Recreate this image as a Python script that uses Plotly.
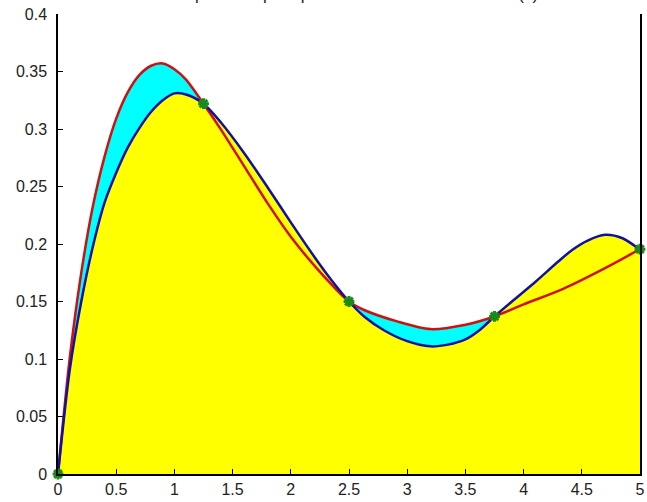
import plotly.graph_objects as go

# Original function f(x) (blue)
fx = [0, 0.1, 0.2, 0.3, 0.4, 0.5, 0.6, 0.7, 0.8, 0.9, 1.0, 1.1, 1.25,
      1.4, 1.6, 1.8, 2.0, 2.2, 2.35, 2.5, 2.63, 2.8, 3.0, 3.2, 3.35, 3.5, 3.62,
      3.75, 3.9, 4.1, 4.3, 4.42, 4.55, 4.7, 4.85, 5.0]
fy = [0, 0.090, 0.150, 0.198, 0.236, 0.262, 0.284, 0.301, 0.315, 0.325, 0.331,
      0.330, 0.322, 0.3057, 0.279, 0.2494, 0.2188, 0.1892, 0.1685, 0.150,
      0.137, 0.125, 0.1155, 0.111, 0.1125, 0.117, 0.125, 0.137, 0.150, 0.167,
      0.185, 0.195, 0.203, 0.208, 0.205, 0.195]

# Interpolant (red)
px = [0, 0.1, 0.2, 0.3, 0.4, 0.5, 0.6, 0.7, 0.8, 0.9, 1.0, 1.1, 1.25, 1.4,
      1.6, 1.8, 2.0, 2.25, 2.5, 2.63, 2.92, 3.2, 3.49, 3.75, 4.0, 4.34, 4.7, 5.0]
py = [0, 0.100, 0.175, 0.233, 0.276, 0.309, 0.332, 0.347, 0.355, 0.357, 0.352,
      0.343, 0.322, 0.2995, 0.2675, 0.2355, 0.2063, 0.1758, 0.150, 0.1426,
      0.1325, 0.126, 0.1296, 0.137, 0.1475, 0.161, 0.179, 0.1955]

# Interpolation nodes (green)
nx = [0, 1.25, 2.5, 3.75, 5]
ny = [0, 0.322, 0.150, 0.137, 0.1955]

xtickvals = [0, 0.5, 1, 1.5, 2, 2.5, 3, 3.5, 4, 4.5, 5]
xticktext = ["0", "0.5", "1", "1.5", "2", "2.5", "3", "3.5", "4", "4.5", "5"]
ytickvals = [0, 0.05, 0.1, 0.15, 0.2, 0.25, 0.3, 0.35, 0.4]
yticktext = ["0", "0.05", "0.1", "0.15", "0.2", "0.25", "0.3", "0.35", "0.4"]

title_text = "Interpolacion por splines cubicos de la funcion f(x)"

fig = go.Figure()
fig.add_trace(go.Scatter(x=px, y=py, mode="lines", fill="tozeroy",
                         fillcolor="#00ffff", line=dict(width=0, shape="spline", smoothing=0.8),
                         hoverinfo="skip", showlegend=False))
fig.add_trace(go.Scatter(x=fx, y=fy, mode="lines", fill="tozeroy",
                         fillcolor="#ffff00", line=dict(width=0, shape="spline", smoothing=0.8),
                         hoverinfo="skip", showlegend=False))
fig.add_trace(go.Scatter(x=px, y=py, mode="lines",
                         line=dict(color="#d01010", width=2.5, shape="spline", smoothing=0.8),
                         showlegend=False))
fig.add_trace(go.Scatter(x=fx, y=fy, mode="lines",
                         line=dict(color="#1010a8", width=2.5, shape="spline", smoothing=0.8),
                         showlegend=False))
fig.add_trace(go.Scatter(x=nx, y=ny, mode="markers", cliponaxis=False,
                         marker=dict(symbol="asterisk-open", size=9, color="#1a8a1a",
                                     line=dict(color="#1a8a1a", width=3)),
                         showlegend=False))

axis_font = dict(family="Liberation Sans, Arial, sans-serif", size=16, color="#222222")
fig.update_layout(
    width=647, height=502,
    margin=dict(l=58, r=2, t=14, b=28),
    paper_bgcolor="white", plot_bgcolor="white",
    xaxis=dict(range=[0, 5], tickvals=xtickvals, ticktext=xticktext,
               showgrid=False, zeroline=False, showline=True, linecolor="black",
               linewidth=1.5, ticks="inside", ticklen=5, tickcolor="black",
               tickfont=axis_font, ticklabelstandoff=0, ticklabeloverflow="allow",
               mirror=False),
    yaxis=dict(range=[0, 0.4], tickvals=ytickvals, ticktext=yticktext,
               showgrid=False, zeroline=False, showline=True, linecolor="black",
               linewidth=1.5, ticks="inside", ticklen=5, tickcolor="black",
               tickfont=axis_font, ticklabelstandoff=6, ticklabeloverflow="allow",
               mirror=True),
    annotations=[dict(text=title_text, xref="paper", yref="paper", x=0.5, y=1,
                      xanchor="center", yanchor="bottom", yshift=8, showarrow=False,
                      font=dict(family="Liberation Sans, Arial, sans-serif", size=17,
                                color="#222222"))],
)

fig.write_html("out.html", config={"displayModeBar": False},
               post_script="document.body.style.margin='0';document.body.style.overflow='hidden';")
